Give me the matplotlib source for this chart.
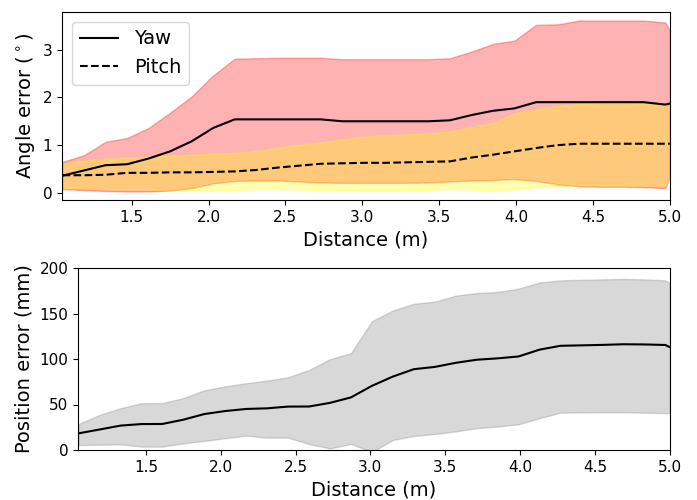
import matplotlib
matplotlib.use("Agg")
import matplotlib.pyplot as plt

# distance samples (m)
distance = [1.05, 1.19, 1.33, 1.47, 1.61, 1.75, 1.89, 2.03, 2.17, 2.31,
            2.45, 2.59, 2.73, 2.87, 3.01, 3.15, 3.29, 3.43, 3.57, 3.71,
            3.85, 3.99, 4.13, 4.27, 4.41, 4.55, 4.69, 4.83, 4.97, 5.00]

# angle error (deg)
yaw_mean = [0.36, 0.47, 0.58, 0.60, 0.72, 0.87, 1.08, 1.36, 1.54, 1.54,
            1.54, 1.54, 1.54, 1.50, 1.50, 1.50, 1.50, 1.50, 1.52, 1.63,
            1.72, 1.77, 1.90, 1.90, 1.90, 1.90, 1.90, 1.90, 1.85, 1.87]
yaw_hi = [0.65, 0.79, 1.07, 1.15, 1.36, 1.68, 2.02, 2.46, 2.81, 2.82,
          2.83, 2.83, 2.83, 2.80, 2.80, 2.80, 2.80, 2.80, 2.82, 2.96,
          3.12, 3.19, 3.52, 3.53, 3.61, 3.61, 3.61, 3.61, 3.57, 3.40]
yaw_lo = [0.08, 0.06, 0.04, 0.03, 0.03, 0.05, 0.10, 0.20, 0.25, 0.26,
          0.26, 0.24, 0.22, 0.21, 0.21, 0.21, 0.21, 0.22, 0.24, 0.26,
          0.27, 0.29, 0.25, 0.18, 0.14, 0.13, 0.13, 0.12, 0.10, 0.33]

pitch_mean = [0.37, 0.37, 0.38, 0.42, 0.42, 0.43, 0.43, 0.44, 0.45, 0.48,
              0.53, 0.57, 0.61, 0.62, 0.63, 0.63, 0.64, 0.65, 0.66, 0.74,
              0.80, 0.87, 0.94, 1.00, 1.03, 1.03, 1.03, 1.03, 1.03, 1.03]
pitch_hi = [0.62, 0.68, 0.72, 0.74, 0.76, 0.78, 0.80, 0.82, 0.84, 0.88,
            0.95, 1.01, 1.06, 1.12, 1.18, 1.21, 1.23, 1.25, 1.29, 1.38,
            1.47, 1.67, 1.76, 1.82, 1.87, 1.88, 1.88, 1.87, 1.86, 1.86]
pitch_lo = [0.10, 0.10, 0.08, 0.07, 0.07, 0.06, 0.06, 0.06, 0.06, 0.08,
            0.08, 0.07, 0.06, 0.06, 0.05, 0.05, 0.05, 0.06, 0.08, 0.07,
            0.06, 0.07, 0.12, 0.14, 0.15, 0.15, 0.15, 0.15, 0.15, 0.33]

# position error (mm)
pos_mean = [18.3, 22.5, 26.8, 28.5, 28.6, 33.3, 39.5, 42.8, 45.1, 45.8,
            47.7, 47.8, 51.8, 57.8, 70.5, 80.7, 88.8, 91.3, 95.8, 99.2,
            100.7, 102.8, 110.3, 114.5, 115.0, 115.5, 116.2, 116.0, 115.4, 113.0]
pos_hi = [28.6, 38.5, 45.9, 51.4, 51.6, 57.0, 65.5, 70.0, 73.4, 76.3,
          80.0, 88.0, 99.8, 106.5, 141.5, 153.3, 160.7, 163.0, 169.6, 172.5,
          173.7, 177.3, 184.2, 186.4, 187.0, 187.5, 187.9, 187.5, 186.4, 183.5]
pos_lo = [5.5, 5.8, 6.2, 3.8, 3.7, 7.3, 10.0, 13.0, 15.8, 13.6,
          13.6, 6.5, 1.8, 6.6, -2.0, 11.0, 15.4, 17.6, 20.5, 24.0,
          25.8, 28.3, 35.0, 41.1, 41.3, 41.5, 41.5, 41.0, 40.6, 40.4]

fig = plt.figure(figsize=(6.97, 5.0), dpi=100)
ax1 = fig.add_axes([0.089, 0.6, 0.872, 0.376])
ax2 = fig.add_axes([0.112, 0.1, 0.849, 0.364])

# angle error
ax1.fill_between(distance, yaw_lo, yaw_hi, color='red', alpha=0.3)
ax1.fill_between(distance, pitch_lo, pitch_hi, color='yellow', alpha=0.3)
ax1.plot(distance, yaw_mean, color='black', linestyle='-', label='Yaw')
ax1.plot(distance, pitch_mean, color='black', linestyle='--', label='Pitch')
ax1.set_xlim(distance[0] - 0.003, distance[-1])
ax1.set_xlabel('Distance (m)', fontsize=14)
ax1.set_ylabel('Angle error ($^\\circ$)', fontsize=14)
ax1.tick_params(labelsize=11)
ax1.legend(loc='upper left', fontsize=14)

# position error
ax2.fill_between(distance, pos_lo, pos_hi, color='gray', alpha=0.3)
ax2.plot(distance, pos_mean, color='black')
ax2.set_xlim(distance[0] - 0.003, distance[-1])
ax2.set_ylim(0, 200)
ax2.set_xlabel('Distance (m)', fontsize=14)
ax2.set_ylabel('Position error (mm)', fontsize=14)
ax2.tick_params(labelsize=11)

fig.savefig('out.png', dpi=100)
